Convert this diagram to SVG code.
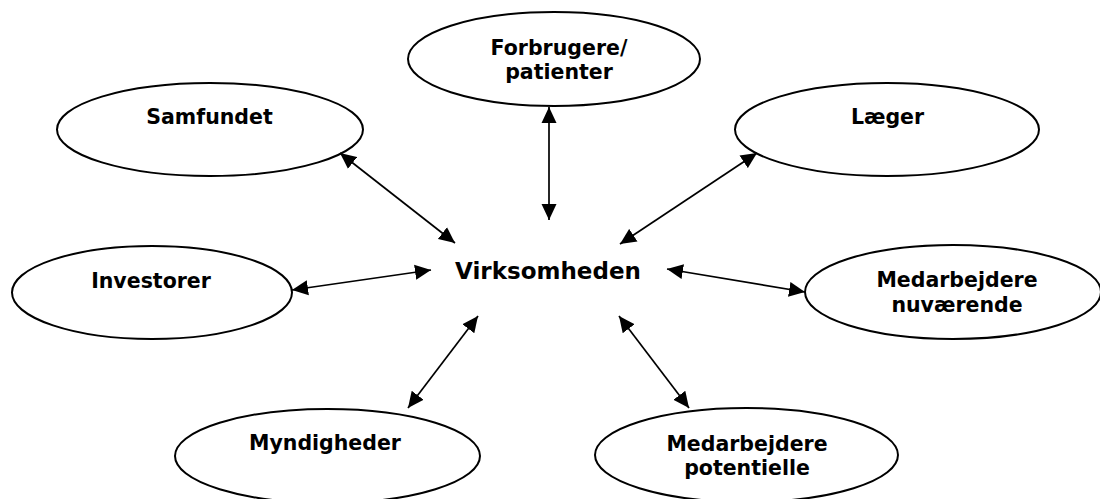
<svg xmlns="http://www.w3.org/2000/svg" width="1100" height="499" viewBox="0 0 1100 499">
<style>
.node ellipse{fill:#fff;stroke:#000;stroke-width:2}
.lbl{font-family:"DejaVu Sans",Verdana,sans-serif;font-weight:bold;font-size:20.5px;fill:#000;text-anchor:middle}
.center{font-size:23px}
.conn line{stroke:#000;stroke-width:1.7;marker-start:url(#ah);marker-end:url(#ah)}
</style>
<defs>
<marker id="ah" markerUnits="userSpaceOnUse" markerWidth="17" markerHeight="16" refX="16" refY="8" orient="auto-start-reverse">
<path d="M0,0.5 L16,8 L0,15.5 z" fill="#000"/>
</marker>
</defs>
<rect width="1100" height="499" fill="#fff"/>
<g id="forbrugere" class="node"><ellipse cx="554" cy="59" rx="146" ry="47"/><text class="lbl" x="559" y="55">Forbrugere/</text><text class="lbl" x="559" y="79">patienter</text></g>
<g id="samfundet" class="node"><ellipse cx="210" cy="129.5" rx="153" ry="46.5"/><text class="lbl" x="209.5" y="124">Samfundet</text></g>
<g id="laeger" class="node"><ellipse cx="887" cy="129.5" rx="152" ry="46.5"/><text class="lbl" x="887.5" y="124">Læger</text></g>
<g id="investorer" class="node"><ellipse cx="152" cy="292.5" rx="140" ry="46.5"/><text class="lbl" x="151" y="288">Investorer</text></g>
<g id="virksomheden" class="node"><text class="lbl center" x="548" y="279">Virksomheden</text></g>
<g id="medarbejdere-nuvaerende" class="node"><ellipse cx="953" cy="292" rx="148" ry="47"/><text class="lbl" x="957" y="287">Medarbejdere</text><text class="lbl" x="957" y="312">nuværende</text></g>
<g id="myndigheder" class="node"><ellipse cx="327.5" cy="456" rx="152.5" ry="47"/><text class="lbl" x="325" y="450">Myndigheder</text></g>
<g id="medarbejdere-potentielle" class="node"><ellipse cx="746.5" cy="455" rx="151.5" ry="47"/><text class="lbl" x="747" y="451">Medarbejdere</text><text class="lbl" x="747" y="475">potentielle</text></g>
<g id="connectors" class="conn">
<line x1="549" y1="107" x2="549" y2="220"/>
<line x1="340" y1="153" x2="455" y2="243"/>
<line x1="757" y1="153" x2="620" y2="244"/>
<line x1="292" y1="290" x2="431" y2="270"/>
<line x1="667" y1="269" x2="805" y2="292"/>
<line x1="478" y1="316" x2="408" y2="408"/>
<line x1="619" y1="316" x2="689" y2="408"/>
</g>
</svg>
